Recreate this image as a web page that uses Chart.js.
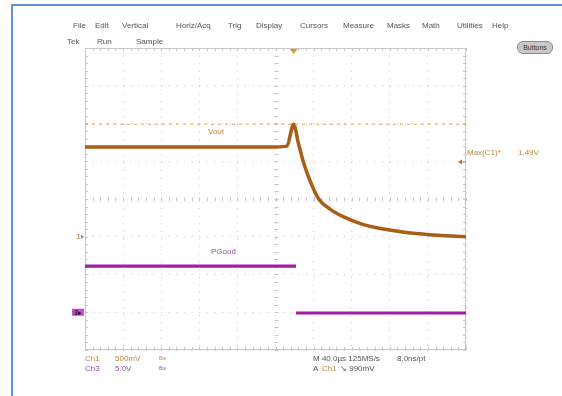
<!DOCTYPE html>
<html>
<head>
<meta charset="utf-8">
<script src="https://cdn.jsdelivr.net/npm/chart.js@4.4.0/dist/chart.umd.min.js"></script>
<style>
    html, body { margin: 0; padding: 0; background: #fff; }
    #wrap { position: relative; width: 562px; height: 396px; overflow: hidden; font-family: 'Liberation Sans', Arial, sans-serif; }
    #frame { position: absolute; left: 11px; top: 4px; width: 620px; height: 460px; border: 2px solid #5e8fd0; box-sizing: border-box; }
    #scope { position: absolute; left: 0; top: 0; }
    .t { position: absolute; font-size: 8px; line-height: 8px; color: #555; white-space: nowrap; }
    .ch1 { color: #b98a45; }
    .ch3 { color: #9550a3; }
    .bw { font-size: 5px; line-height: 5px; }
    #buttons { position: absolute; left: 517px; top: 41px; width: 36px; height: 13px; border-radius: 6px; background: #c9c9c9; border: 1px solid #8a8a8a; box-sizing: border-box; font-size: 7px; line-height: 11px; text-align: center; color: #333; }
</style>
</head>
<body>
<div id="wrap">
    <div id="frame"></div>
    <canvas id="scope" width="562" height="396"></canvas>
    <div id="buttons">Buttons</div>
</div>
<script>
// --- scope settings ---
const timePerDiv = 40;          // µs/div (M 40.0µs)
const ch1VoltsPerDiv = 0.5;     // Ch1 500mV
const ch3VoltsPerDiv = 5;       // Ch3 5.0V
const ch1GroundDiv = -1;        // marker "1"
const ch3GroundDiv = -3;        // marker "3"
const triggerTime = 219;        // µs from left edge
const triggerLevel = 0.99;      // A Ch1 990mV
const maxC1 = 1.49;             // Max(C1)

// --- Vout (Ch1) ---
const voutTime = [0, 40, 80, 120, 160, 200, 212, 219, 224, 229.5, 236.8, 245.3, 258, 271.6, 290, 307.4, 325, 342, 370, 400];
const voutVolts = [1.19, 1.19, 1.19, 1.19, 1.19, 1.19, 1.2, 1.49, 1.24, 0.98, 0.725, 0.5, 0.36, 0.263, 0.17, 0.116, 0.08, 0.05, 0.02, 0.0];

// --- PGood (Ch3), null = no trace drawn across the edge ---
const pgoodTime = [0, 221.5, 221.5, 221.5, 400];
const pgoodVolts = [6.1, 6.1, null, -0.1, -0.1];

const ctx = document.getElementById('scope').getContext('2d');

// graticule border, minor ticks and channel / trigger markers
const graticule = {
    id: 'graticule',
    beforeDatasetsDraw(chart) {
        const { ctx, chartArea: a, scales: { x, y, y2 } } = chart;
        ctx.save();
        ctx.strokeStyle = '#c6c6c6';
        ctx.lineWidth = 1;
        ctx.strokeRect(a.left + 0.5, a.top + 0.5, a.width - 1, a.height - 1);

        const cx = Math.round(x.getPixelForValue(5 * timePerDiv)) + 0.5;
        const cy = Math.round(y.getPixelForValue(-ch1GroundDiv * ch1VoltsPerDiv)) + 0.5;
        ctx.beginPath();
        for (let t = 0; t <= 10 * timePerDiv; t += timePerDiv / 5) {
            const px = Math.round(x.getPixelForValue(t)) + 0.5;
            ctx.moveTo(px, a.top); ctx.lineTo(px, a.top + 3);
            ctx.moveTo(px, a.bottom); ctx.lineTo(px, a.bottom - 3);
            ctx.moveTo(px, cy - 2); ctx.lineTo(px, cy + 2);
        }
        for (let d = -4; d <= 4.001; d += 0.2) {
            const py = Math.round(y.getPixelForValue((d - ch1GroundDiv) * ch1VoltsPerDiv)) + 0.5;
            ctx.moveTo(a.left, py); ctx.lineTo(a.left + 3, py);
            ctx.moveTo(a.right, py); ctx.lineTo(a.right - 3, py);
            ctx.moveTo(cx - 2, py); ctx.lineTo(cx + 2, py);
        }
        ctx.stroke();

        // trigger position marker (top)
        const tx = x.getPixelForValue(triggerTime);
        ctx.fillStyle = '#e59a2c';
        ctx.beginPath();
        ctx.moveTo(tx - 4, a.top + 1); ctx.lineTo(tx + 4, a.top + 1); ctx.lineTo(tx, a.top + 6);
        ctx.closePath(); ctx.fill();

        // trigger level marker (right)
        const ty = y.getPixelForValue(triggerLevel);
        ctx.fillStyle = '#c07a3a';
        ctx.beginPath();
        ctx.moveTo(a.right - 8, ty); ctx.lineTo(a.right - 4, ty - 2.5); ctx.lineTo(a.right - 4, ty + 2.5);
        ctx.closePath(); ctx.fill();
        ctx.fillRect(a.right - 5, ty - 0.5, 4, 1);

        // Ch1 ground marker
        const g1 = y.getPixelForValue(0);
        ctx.font = '8px "Liberation Sans", Arial, sans-serif';
        ctx.textBaseline = 'middle';
        ctx.fillStyle = '#b0783a';
        ctx.fillText('1', a.left - 9, g1);
        ctx.beginPath();
        ctx.moveTo(a.left - 4, g1 - 2); ctx.lineTo(a.left - 1, g1); ctx.lineTo(a.left - 4, g1 + 2);
        ctx.closePath(); ctx.fill();

        // Ch3 ground marker
        const g3 = y2.getPixelForValue(0);
        ctx.fillStyle = '#c24fd0';
        ctx.fillRect(a.left - 13, g3 - 3.5, 12, 7);
        ctx.fillStyle = '#3a1040';
        ctx.font = 'bold 7px "Liberation Sans", Arial, sans-serif';
        ctx.fillText('3', a.left - 11, g3 + 0.5);
        ctx.fillText('\u25B8', a.left - 7, g3 + 0.5);
        ctx.restore();
    }
};

const gridOpts = { color: '#c9c9c9', lineWidth: 1, drawTicks: false };

new Chart(ctx, {
    type: 'line',
    data: {
        datasets: [
            {
                label: 'Max(C1)',
                data: [{ x: 0, y: maxC1 }, { x: 10 * timePerDiv, y: maxC1 }],
                borderColor: '#e6a24e',
                borderWidth: 1.2,
                borderDash: [3, 4],
                pointRadius: 0,
                yAxisID: 'y'
            },
            {
                label: 'Vout',
                data: voutTime.map((t, i) => ({ x: t, y: voutVolts[i] })),
                borderColor: '#a85e16',
                borderWidth: 3.5,
                cubicInterpolationMode: 'monotone',
                pointRadius: 0,
                yAxisID: 'y'
            },
            {
                label: 'PGood',
                data: pgoodTime.map((t, i) => ({ x: t, y: pgoodVolts[i] })),
                borderColor: '#a21ca6',
                borderWidth: 3.2,
                spanGaps: false,
                pointRadius: 0,
                yAxisID: 'y2'
            }
        ]
    },
    options: {
        responsive: false,
        animation: false,
        layout: { padding: { left: 85, right: 96, top: 48, bottom: 46 } },
        plugins: { legend: { display: false }, tooltip: { enabled: false } },
        scales: {
            x: {
                type: 'linear',
                min: 0, max: 10 * timePerDiv,
                ticks: { display: false, stepSize: timePerDiv },
                grid: gridOpts,
                border: { display: false, dash: [1, 6.62] }
            },
            y: {
                type: 'linear',
                min: (-4 - ch1GroundDiv) * ch1VoltsPerDiv,
                max: (4 - ch1GroundDiv) * ch1VoltsPerDiv,
                ticks: { display: false, stepSize: ch1VoltsPerDiv },
                grid: gridOpts,
                border: { display: false, dash: [1, 6.62] }
            },
            y2: {
                type: 'linear',
                display: false,
                min: (-4 - ch3GroundDiv) * ch3VoltsPerDiv,
                max: (4 - ch3GroundDiv) * ch3VoltsPerDiv
            }
        }
    },
    plugins: [graticule]
});

// --- screen text ---
const menu = [['File', 73], ['Edit', 95], ['Vertical', 122], ['Horiz/Acq', 176], ['Trig', 228], ['Display', 256],
    ['Cursors', 300], ['Measure', 343], ['Masks', 387], ['Math', 422], ['Utilities', 457], ['Help', 492]];
const labels = [
    ['Tek', 67, 38, ''], ['Run', 97, 38, ''], ['Sample', 136, 38, ''],
    ['Vout', 208, 128, 'ch1'], ['PGood', 211, 248, 'ch3'],
    ['Max(C1)*', 467, 149, 'ch1'], ['1.49V', 518, 149, 'ch1'],
    ['Ch1', 85, 355, 'ch1'], ['500mV', 115, 355, 'ch1'],
    ['Ch3', 85, 365, 'ch3'], ['5.0V', 115, 365, 'ch3'],
    ['M 40.0\u00B5s 125MS/s', 313, 355, ''], ['8.0ns/pt', 397, 355, ''],
    ['A', 313, 365, ''], ['Ch1', 322, 365, 'ch1'], ['\u2198 990mV', 340, 365, '']
];
const wrap = document.getElementById('wrap');
function addText(txt, x, y, cls) {
    const el = document.createElement('div');
    el.className = 't ' + (cls || '');
    el.textContent = txt;
    el.style.left = x + 'px';
    el.style.top = y + 'px';
    wrap.appendChild(el);
}
menu.forEach(m => addText(m[0], m[1], 22, ''));
labels.forEach(l => addText(l[0], l[1], l[2], l[3]));
addText('Bw', 159, 356, 'ch1 bw');
addText('Bw', 159, 366, 'ch3 bw');
</script>
</body>
</html>
